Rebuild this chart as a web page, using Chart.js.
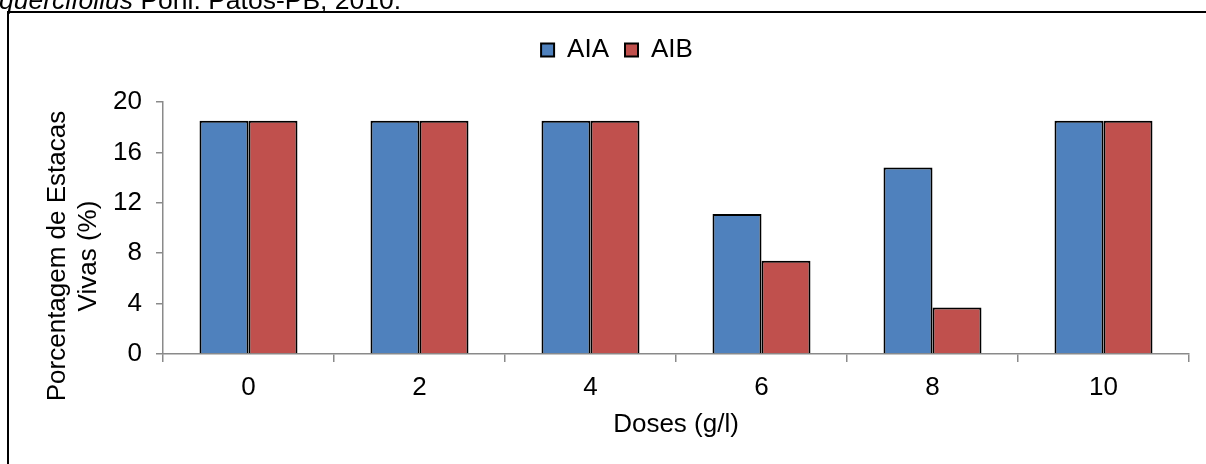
<!DOCTYPE html>
<html>
<head>
<meta charset="utf-8">
<script src="https://cdn.jsdelivr.net/npm/chart.js@4"></script>
<style>
  body { margin: 0; background: #fff; overflow: hidden; }
  #c { display: block; }
</style>
</head>
<body>
<canvas id="c" width="1206" height="464"></canvas>
<script>
// Doses e porcentagens
const doses = ['0', '2', '4', '6', '8', '10'];
const aia = [18.52, 18.52, 18.52, 11.11, 14.81, 18.52];
const aib = [18.52, 18.52, 18.52, 7.41, 3.70, 18.52];
const yTicks = [0, 4, 8, 12, 16, 20];
const yTitle = ['Porcentagem de Estacas', 'Vivas (%)'];

const fontFamily = 'Arial, "Liberation Sans", sans-serif';
const axisGray = '#8a8a8a';

Chart.defaults.color = '#000';
Chart.defaults.font.family = fontFamily;
Chart.defaults.font.size = 26;

// moldura, legenda cortada do topo e título do eixo y
const decorPlugin = {
    id: 'decor',
    beforeInit(chart) {
        const fit = chart.legend.fit;
        chart.legend.fit = function () {
            fit.bind(chart.legend)();
            this.height += 29;
        };
    },
    beforeDraw(chart) {
        const ctx = chart.ctx;
        ctx.save();
        ctx.fillStyle = '#fff';
        ctx.fillRect(0, 0, chart.width, chart.height);
        ctx.fillStyle = '#000';
        ctx.fillRect(7, 11, chart.width, 2);
        ctx.fillRect(7, 11, 2, chart.height);
        // legenda da figura (cortada)
        ctx.textBaseline = 'alphabetic';
        ctx.textAlign = 'left';
        ctx.font = 'italic 26.5px ' + fontFamily;
        ctx.fillText('quercifolius', -1, 8.5);
        const w = ctx.measureText('quercifolius').width;
        ctx.font = '26.5px ' + fontFamily;
        ctx.fillText(' Pohl. Patos-PB, 2010.', -1 + w, 8.5);
        ctx.restore();
    },
    afterDraw(chart) {
        const ctx = chart.ctx;
        ctx.save();
        ctx.font = '26px ' + fontFamily;
        ctx.fillStyle = '#000';
        ctx.textAlign = 'center';
        ctx.textBaseline = 'middle';
        ctx.translate(0, 256);
        ctx.rotate(-Math.PI / 2);
        ctx.fillText(yTitle[0], 0, 58);
        ctx.fillText(yTitle[1], 0, 89);
        ctx.restore();
    }
};

new Chart(document.getElementById('c'), {
    type: 'bar',
    data: {
        labels: doses,
        datasets: [
            {
                label: 'AIA',
                data: aia,
                backgroundColor: '#4f81bd',
                borderColor: '#000',
                borderWidth: 2,
                categoryPercentage: 0.573,
                barPercentage: 1
            },
            {
                label: 'AIB',
                data: aib,
                backgroundColor: '#c0504d',
                borderColor: '#000',
                borderWidth: 2,
                categoryPercentage: 0.573,
                barPercentage: 1
            }
        ]
    },
    options: {
        responsive: false,
        animation: false,
        layout: { padding: { top: 21, left: 45, right: 17, bottom: 0 } },
        scales: {
            x: {
                z: 1,
                grid: { drawOnChartArea: false, drawTicks: true, tickLength: 8, color: axisGray, lineWidth: 1.5 },
                border: { color: axisGray, width: 1.5 },
                ticks: { padding: 10, font: { size: 26 } },
                title: { display: true, text: 'Doses (g/l)', font: { size: 26 }, padding: { top: 0, bottom: 24 } },
                afterFit(scale) { scale.height = 110; }
            },
            y: {
                z: 1,
                min: 0,
                max: 20,
                grid: { drawOnChartArea: false, drawTicks: true, tickLength: 7, color: axisGray, lineWidth: 1.5 },
                border: { color: axisGray, width: 1.5 },
                afterBuildTicks(scale) { scale.ticks = yTicks.map(v => ({ value: v })); },
                ticks: { padding: 14, font: { size: 26 } },
                afterFit(scale) { scale.width = 118; }
            }
        },
        plugins: {
            legend: {
                position: 'top',
                labels: { boxWidth: 13, boxHeight: 13, padding: 16, font: { size: 26 } }
            },
            tooltip: { enabled: false }
        }
    },
    plugins: [decorPlugin]
});
</script>
</body>
</html>
